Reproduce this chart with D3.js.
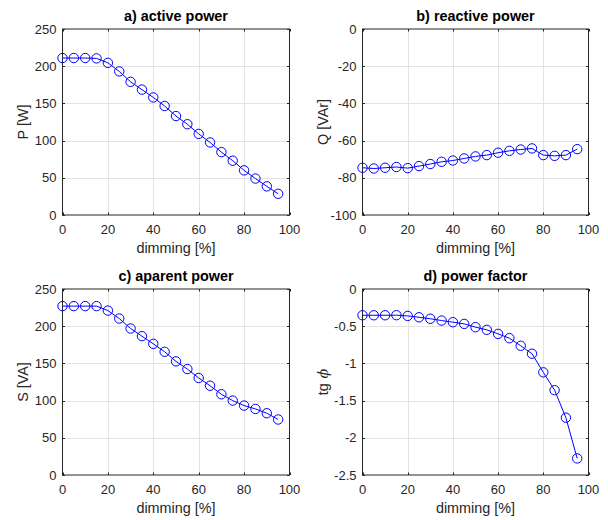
<!DOCTYPE html>
<html>
<head>
<meta charset="utf-8">
<script src="https://cdn.jsdelivr.net/npm/d3@7"></script>
<style>
  html, body { margin: 0; padding: 0; background: #fff; }
  svg { display: block; font-family: "Liberation Sans", Arial, sans-serif; }
</style>
</head>
<body>
<svg id="chart" width="608" height="520"></svg>
<script>
// ---- data ----
const dimming = [0, 5, 10, 15, 20, 25, 30, 35, 40, 45, 50, 55, 60, 65, 70, 75, 80, 85, 90, 95];
const activePower = [211, 211, 211, 210.5, 204.5, 193, 179, 168.5, 158, 146.5, 133, 122, 109, 97.5, 84.5, 73, 60, 49, 38.5, 28.5];
const reactivePower = [-74.6, -75, -74.6, -74.2, -74.8, -73.7, -72.6, -71.4, -70.7, -69.6, -68.5, -67.8, -66.5, -65.5, -64.8, -64.2, -67.8, -68.2, -67.8, -64.6];
const apparentPower = [227, 227, 227, 227, 221, 210.3, 196.9, 186.6, 176.3, 165.6, 152.7, 142.4, 130.4, 120, 108.5, 100, 93.3, 88.8, 83, 74.6];
const tgPhi = [-0.353, -0.353, -0.353, -0.352, -0.362, -0.38, -0.40, -0.424, -0.446, -0.469, -0.513, -0.549, -0.603, -0.661, -0.763, -0.87, -1.12, -1.36, -1.73, -2.277];

const xTicks = [0, 20, 40, 60, 80, 100];
const yTicksA = [0, 50, 100, 150, 200, 250];
const yTicksB = [0, -20, -40, -60, -80, -100];
const yTicksC = [0, 50, 100, 150, 200, 250];
const yTicksD = [0, -0.5, -1, -1.5, -2, -2.5];

const titles = ["a) active power", "b) reactive power", "c) aparent power", "d) power factor"];
const yLabels = ["P [W]", "Q [VAr]", "S [VA]", "tg"];
const xLabel = "dimming [%]";

// ---- layout ----
const panels = [
  { x0: 62.5, x1: 289.5, y0: 29, y1: 215, values: activePower, domain: [0, 250], ticks: yTicksA },
  { x0: 362.5, x1: 588.5, y0: 29, y1: 215, values: reactivePower, domain: [-100, 0], ticks: yTicksB },
  { x0: 62.5, x1: 289.5, y0: 289, y1: 475, values: apparentPower, domain: [0, 250], ticks: yTicksC },
  { x0: 362.5, x1: 588.5, y0: 289, y1: 475, values: tgPhi, domain: [-2.5, 0], ticks: yTicksD }
];

const svg = d3.select("#chart");
const axisCol = "#262626";
const gridCol = "#e3e3e3";
const lineCol = "#0000ff";

panels.forEach((p, i) => {
  const x = d3.scaleLinear().domain([0, 100]).range([p.x0, p.x1]);
  const y = d3.scaleLinear().domain(p.domain).range([p.y1, p.y0]);
  const g = svg.append("g");

  // grid
  g.selectAll(".gx").data(xTicks.slice(1, -1)).enter().append("line")
    .attr("x1", d => Math.round(x(d)) + 0.5).attr("x2", d => Math.round(x(d)) + 0.5)
    .attr("y1", p.y0).attr("y2", p.y1)
    .attr("stroke", gridCol).attr("stroke-width", 1);
  const ticksInner = p.ticks.filter(t => t !== p.domain[0] && t !== p.domain[1]);
  g.selectAll(".gy").data(ticksInner).enter().append("line")
    .attr("y1", d => Math.round(y(d)) + 0.5).attr("y2", d => Math.round(y(d)) + 0.5)
    .attr("x1", p.x0).attr("x2", p.x1)
    .attr("stroke", gridCol).attr("stroke-width", 1);

  // inward ticks
  const tl = 2.5;
  xTicks.forEach(t => {
    const xx = Math.round(x(t)) + 0.5;
    g.append("line").attr("x1", xx).attr("x2", xx).attr("y1", p.y1).attr("y2", p.y1 - tl).attr("stroke", axisCol);
    g.append("line").attr("x1", xx).attr("x2", xx).attr("y1", p.y0).attr("y2", p.y0 + tl).attr("stroke", axisCol);
  });
  p.ticks.forEach(t => {
    const yy = Math.round(y(t)) + 0.5;
    g.append("line").attr("y1", yy).attr("y2", yy).attr("x1", p.x0).attr("x2", p.x0 + tl).attr("stroke", axisCol);
    g.append("line").attr("y1", yy).attr("y2", yy).attr("x1", p.x1).attr("x2", p.x1 - tl).attr("stroke", axisCol);
  });

  // box
  g.append("rect").attr("x", p.x0).attr("y", p.y0)
    .attr("width", p.x1 - p.x0).attr("height", p.y1 - p.y0)
    .attr("fill", "none").attr("stroke", axisCol).attr("stroke-width", 1);

  // tick labels
  g.selectAll(".xt").data(xTicks).enter().append("text")
    .attr("x", d => x(d)).attr("y", p.y1 + 19)
    .attr("text-anchor", "middle").attr("font-size", "13px").attr("fill", axisCol)
    .text(d => d);
  g.selectAll(".yt").data(p.ticks).enter().append("text")
    .attr("x", p.x0 - 6).attr("y", d => y(d)).attr("dy", "0.36em")
    .attr("text-anchor", "end").attr("font-size", "13px").attr("fill", axisCol)
    .text(d => d);

  // title
  g.append("text").attr("x", (p.x0 + p.x1) / 2).attr("y", p.y0 - 8)
    .attr("text-anchor", "middle").attr("font-size", "14.4px").attr("font-weight", "bold").attr("fill", "#000")
    .text(titles[i]);

  // x label
  g.append("text").attr("x", (p.x0 + p.x1) / 2).attr("y", p.y1 + 38)
    .attr("text-anchor", "middle").attr("font-size", "14.4px").attr("fill", axisCol)
    .text(xLabel);

  // y label
  const yl = g.append("text")
    .attr("transform", `translate(${p.x0 - 35},${(p.y0 + p.y1) / 2}) rotate(-90)`)
    .attr("text-anchor", "middle").attr("font-size", "14.4px").attr("fill", axisCol);
  yl.append("tspan").text(yLabels[i]);
  if (i === 3) {
    yl.append("tspan").text(" ϕ").attr("font-style", "italic").attr("font-family", "DejaVu Serif");
  }

  // line + markers
  const pts = dimming.map((d, k) => [d, p.values[k]]);
  g.append("path").datum(pts)
    .attr("d", d3.line().x(d => x(d[0])).y(d => y(d[1])))
    .attr("fill", "none").attr("stroke", lineCol).attr("stroke-width", 1);
  g.selectAll(".pt").data(pts).enter().append("circle")
    .attr("cx", d => x(d[0])).attr("cy", d => y(d[1])).attr("r", 4.7)
    .attr("fill", "none").attr("stroke", lineCol).attr("stroke-width", 1);
});
</script>
</body>
</html>
